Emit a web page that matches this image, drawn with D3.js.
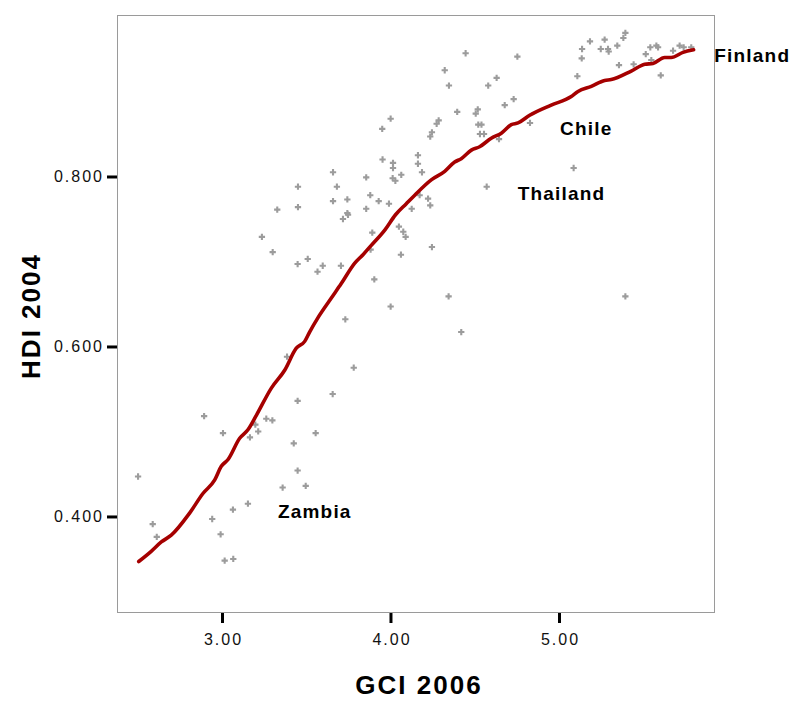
<!DOCTYPE html>
<html>
<head>
<meta charset="utf-8">
<script src="https://cdn.jsdelivr.net/npm/d3@7"></script>
<style>
  html, body { margin: 0; padding: 0; background: #fff; }
  svg { display: block; font-family: "Liberation Sans", Arial, sans-serif; }
</style>
</head>
<body>
<svg id="chart" width="794" height="701"></svg>
<script>
// Competitiveness index 2006 (x) vs. Human Development Index 2004 (y)
const gci = [
  3.451, 3.328, 3.451, 3.237, 3.301, 3.449, 3.509, 3.567, 3.386, 3.449,
  2.894, 4.446, 4.753, 4.322, 4.347, 4.630, 4.580, 4.731, 4.678, 4.396,
  4.518, 4.506, 4.001, 3.951, 4.286, 4.274, 4.521, 4.540, 4.246, 4.236,
  4.531, 4.555, 4.644, 3.953, 4.015, 4.015, 4.163, 4.163, 4.187, 3.659,
  3.682, 3.856, 4.013, 4.029, 4.064, 4.571, 3.880, 3.659, 3.744, 3.930,
  3.991, 3.856, 3.744, 4.126, 4.173, 4.223, 4.236, 3.718, 3.748, 3.892,
  4.050, 4.076, 4.090, 3.882, 4.062, 4.246, 3.598, 3.706, 3.904, 4.345,
  4.001, 3.732, 4.420, 3.782, 3.657, 5.394, 5.382, 5.184, 5.271, 5.137,
  5.248, 5.291, 5.295, 5.346, 5.135, 5.356, 5.109, 5.443, 5.515, 5.542,
  5.578, 5.588, 5.548, 5.604, 5.677, 5.716, 5.740, 5.785, 4.828, 5.087,
  5.394, 3.263, 3.299, 3.198, 3.215, 3.166, 3.426, 3.556, 3.449, 3.360,
  3.497, 2.502, 3.154, 3.065, 2.942, 2.992, 2.589, 2.613, 3.016, 3.067,
  3.006
];
const hdi = [
  0.788, 0.761, 0.764, 0.729, 0.711, 0.697, 0.703, 0.688, 0.588, 0.536,
  0.518, 0.945, 0.941, 0.925, 0.907, 0.916, 0.907, 0.891, 0.884, 0.876,
  0.879, 0.874, 0.868, 0.856, 0.866, 0.862, 0.861, 0.861, 0.852, 0.847,
  0.850, 0.850, 0.844, 0.820, 0.816, 0.810, 0.825, 0.815, 0.805, 0.805,
  0.788, 0.799, 0.798, 0.795, 0.802, 0.788, 0.778, 0.771, 0.773, 0.771,
  0.768, 0.762, 0.757, 0.762, 0.778, 0.774, 0.766, 0.750, 0.755, 0.734,
  0.741, 0.735, 0.729, 0.714, 0.708, 0.717, 0.695, 0.695, 0.679, 0.659,
  0.647, 0.632, 0.617, 0.575, 0.544, 0.969, 0.963, 0.959, 0.961, 0.950,
  0.950, 0.950, 0.947, 0.954, 0.939, 0.931, 0.918, 0.932, 0.944, 0.952,
  0.954, 0.952, 0.937, 0.919, 0.948, 0.954, 0.952, 0.952, 0.863, 0.810,
  0.659, 0.515, 0.513, 0.508, 0.500, 0.493, 0.486, 0.498, 0.454, 0.434,
  0.436, 0.447, 0.415, 0.408, 0.397, 0.379, 0.391, 0.376, 0.348, 0.350,
  0.498
];

// Loess fit line
const fitGci = [
  2.506, 2.580, 2.640, 2.699, 2.808, 2.887, 2.957, 2.996, 3.036, 3.105,
  3.154, 3.204, 3.293, 3.372, 3.441, 3.491, 3.520, 3.570, 3.649, 3.708,
  3.788, 3.837, 3.886, 3.966, 4.030, 4.094, 4.144, 4.242, 4.322, 4.381,
  4.420, 4.480, 4.529, 4.598, 4.658, 4.717, 4.757, 4.826, 4.954, 5.073,
  5.113, 5.192, 5.271, 5.310, 5.429, 5.509, 5.558, 5.627, 5.666, 5.736,
  5.799
];
const fitHdi = [
  0.347, 0.359, 0.370, 0.378, 0.404, 0.427, 0.443, 0.459, 0.467, 0.492,
  0.502, 0.519, 0.551, 0.572, 0.598, 0.606, 0.617, 0.634, 0.657, 0.674,
  0.698, 0.708, 0.719, 0.737, 0.755, 0.768, 0.778, 0.796, 0.806, 0.817,
  0.821, 0.831, 0.835, 0.845, 0.851, 0.861, 0.863, 0.872, 0.884, 0.894,
  0.900, 0.906, 0.913, 0.914, 0.924, 0.932, 0.933, 0.940, 0.940, 0.946,
  0.949
];

// Named countries
const labelNames = ["Finland", "Chile", "Thailand", "Zambia"];
const labelGci = [5.785, 4.828, 4.571, 3.154];
const labelHdi = [0.952, 0.863, 0.788, 0.415];
const labelDx = [23, 30, 31, 30];
const labelDy = [15, 12, 13, 14];

const xTicks = [3, 4, 5];
const yTicks = [0.4, 0.6, 0.8];

const svg = d3.select("#chart");
const frame = { left: 117, right: 714, top: 15, bottom: 612 };

const x = d3.scaleLinear().domain([2.377, 5.920]).range([frame.left, frame.right]);
const y = d3.scaleLinear().domain([0.2876, 0.990]).range([frame.bottom, frame.top]);

// plot frame
svg.append("rect")
  .attr("x", frame.left + 0.5).attr("y", frame.top + 0.5)
  .attr("width", frame.right - frame.left).attr("height", frame.bottom - frame.top)
  .attr("fill", "none").attr("stroke", "#9a9a9a").attr("stroke-width", 1);

// axes
const yAxis = d3.axisLeft(y).tickValues(yTicks).tickSize(10).tickPadding(3)
  .tickFormat(d3.format(".3f"));
const gy = svg.append("g").attr("transform", `translate(${frame.left},0)`).call(yAxis);
gy.select(".domain").remove();
gy.selectAll(".tick line").attr("stroke", "#000").attr("stroke-width", 3);
gy.selectAll(".tick text").attr("font-size", 16).attr("fill", "#111")
  .attr("letter-spacing", 2).attr("font-family", "Liberation Sans, Arial, sans-serif");

const xAxis = d3.axisBottom(x).tickValues(xTicks).tickSize(10).tickPadding(11)
  .tickFormat(d3.format(".2f"));
const gx = svg.append("g").attr("transform", `translate(0,${frame.bottom + 1})`).call(xAxis);
gx.select(".domain").remove();
gx.selectAll(".tick line").attr("stroke", "#000").attr("stroke-width", 3);
gx.selectAll(".tick text").attr("font-size", 16).attr("fill", "#111")
  .attr("letter-spacing", 2).attr("dx", 1).attr("font-family", "Liberation Sans, Arial, sans-serif");

// axis titles
svg.append("text")
  .attr("x", 419).attr("y", 694)
  .attr("text-anchor", "middle")
  .attr("font-size", 26).attr("font-weight", "bold").attr("letter-spacing", 2)
  .text("GCI 2006");
svg.append("text")
  .attr("transform", "translate(40,316) rotate(-90)")
  .attr("text-anchor", "middle")
  .attr("font-size", 26).attr("font-weight", "bold").attr("letter-spacing", 2)
  .text("HDI 2004");

// points
const pts = gci.map((g, i) => ({ g, h: hdi[i] }));
svg.append("g").selectAll("path").data(pts).join("path")
  .attr("transform", d => `translate(${x(d.g)},${y(d.h)})`)
  .attr("d", d3.symbol(d3.symbolCross, 22))
  .attr("fill", "#9c9c9c");

// fit line
const fit = fitGci.map((g, i) => [g, fitHdi[i]]);
svg.append("path")
  .datum(fit)
  .attr("fill", "none")
  .attr("stroke", "#a50000")
  .attr("stroke-width", 3.6)
  .attr("stroke-linejoin", "round")
  .attr("stroke-linecap", "round")
  .attr("d", d3.line().x(d => x(d[0])).y(d => y(d[1])).curve(d3.curveMonotoneX));

// country labels
svg.append("g").selectAll("text").data(labelNames).join("text")
  .attr("x", (d, i) => x(labelGci[i]) + labelDx[i])
  .attr("y", (d, i) => y(labelHdi[i]) + labelDy[i])
  .attr("font-size", 19).attr("font-weight", "bold").attr("letter-spacing", 1.2)
  .attr("fill", "#000")
  .text(d => d);
</script>
</body>
</html>
